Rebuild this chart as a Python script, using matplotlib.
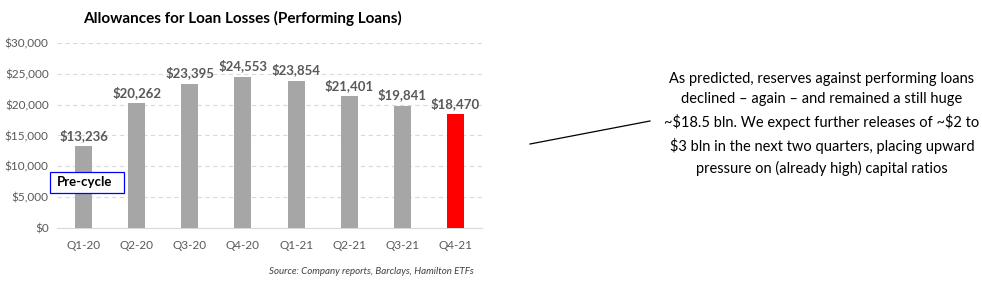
import matplotlib.pyplot as plt
from matplotlib.patches import Rectangle
from matplotlib.lines import Line2D

quarters = ["Q1-20", "Q2-20", "Q3-20", "Q4-20", "Q1-21", "Q2-21", "Q3-21", "Q4-21"]
allowances = [13236, 20262, 23395, 24553, 23854, 21401, 19841, 18470]
bar_colors = ["#a6a6a6"] * 7 + ["#ff0000"]
y_ticks = [0, 5000, 10000, 15000, 20000, 25000, 30000]

plt.rcParams['font.family'] = ['Lato', 'DejaVu Sans']
plt.rcParams['text.parse_math'] = False

fig = plt.figure(figsize=(9.82, 2.81), dpi=100)
ax = fig.add_axes([0.058, 0.189, 0.433, 0.658])

x = range(len(quarters))
ax.bar(x, allowances, width=0.32, color=bar_colors, zorder=3)
for i, v in enumerate(allowances):
    ax.text(i, v + 700, f"${v:,}", ha="center", va="bottom",
            fontsize=9.5, fontweight="bold", color="#595959")

ax.set_xlim(-0.5, len(quarters) - 0.5)
ax.set_ylim(0, 30000)
ax.set_yticks(y_ticks)
ax.set_yticklabels([f"${t:,}" for t in y_ticks])
ax.set_xticks(list(x))
ax.set_xticklabels(quarters)
ax.tick_params(axis="both", length=0, labelsize=8.5, colors="#595959")
ax.tick_params(axis="x", pad=9)
ax.tick_params(axis="y", pad=6)
ax.yaxis.grid(True, linestyle=(0, (4, 3)), color="#d9d9d9", linewidth=0.8, zorder=0)
for s in ["top", "right", "left"]:
    ax.spines[s].set_visible(False)
ax.spines["bottom"].set_color("#d9d9d9")

fig.text(0.247, 0.935, "Allowances for Loan Losses (Performing Loans)",
         ha="center", va="center", fontsize=11, fontweight="bold", color="#000000")

# Pre-cycle box
fig.patches.append(Rectangle((50 / 982, 1 - 193 / 281), 74 / 982, 21 / 281,
                             transform=fig.transFigure, facecolor="white",
                             edgecolor="#0000ff", linewidth=0.9, zorder=5))
fig.text(57 / 982, 1 - 182.5 / 281, "Pre-cycle", ha="left", va="center",
         fontsize=9.5, fontweight="bold", color="black", zorder=6)

fig.text(474 / 982, 1 - 272 / 281, "Source: Company reports, Barclays, Hamilton ETFs",
         ha="right", va="center", fontsize=7, style="italic", color="#404040")

# connector line and commentary
fig.lines.append(Line2D([530 / 982, 650 / 982], [1 - 144 / 281, 1 - 121 / 281],
                        transform=fig.transFigure, color="black", linewidth=0.9))
comment = ("As predicted, reserves against performing loans\n"
           "declined \u2013 again \u2013 and remained a still huge\n"
           "~$18.5 bln. We expect further releases of ~$2 to\n"
           "$3 bln in the next two quarters, placing upward\n"
           "pressure on (already high) capital ratios")
fig.text(822 / 982, 1 - 124 / 281, comment, ha="center", va="center",
         fontsize=10.5, color="black", linespacing=1.6)

fig.savefig("out.png", dpi=100)
